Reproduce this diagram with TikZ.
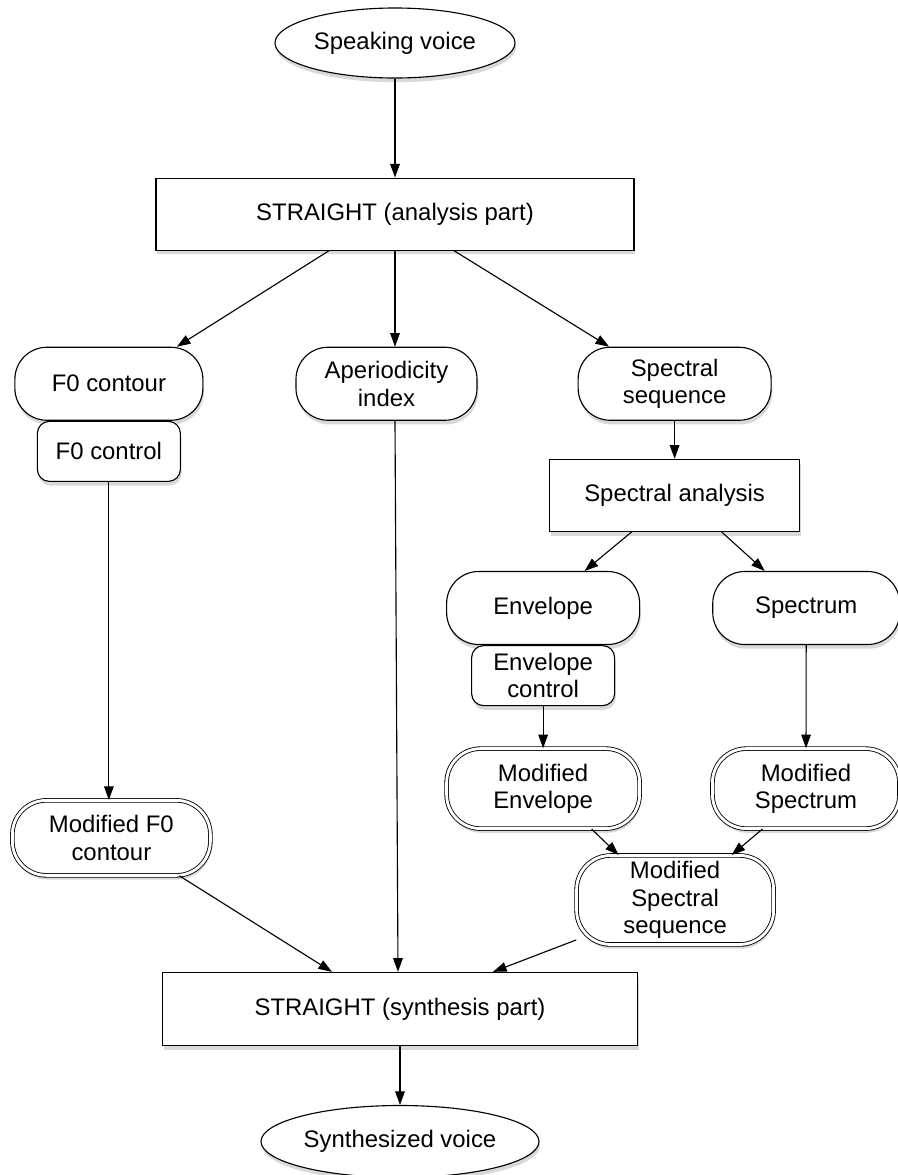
\documentclass[tikz,border=0pt]{standalone}
\usepackage{fontspec}
\setmainfont{Liberation Sans}
\usetikzlibrary{shapes.geometric,arrows.meta,positioning,calc,shadows}

\begin{document}
\begin{tikzpicture}[
  node distance=1.0cm and 1.4cm,
  every node/.style={draw,line width=0.8pt,fill=white,align=center,inner sep=2pt,font=\fontsize{17}{19.5}\selectfont,
    drop shadow={opacity=0.3,shadow xshift=0.8pt,shadow yshift=-3pt}},
  voice/.style={ellipse,inner sep=0pt,minimum width=6.0cm,minimum height=1.75cm},
  block/.style={rectangle,minimum height=1.8cm},
  data/.style={rectangle,rounded corners=0.8cm,minimum height=1.825cm},
  ctrl/.style={rectangle,rounded corners=0.3cm,minimum width=3.575cm,minimum height=1.5cm},
  result/.style={data,rounded corners=0.85cm,double,double distance=2pt,line width=0.6pt,minimum height=2.0cm},
  arrow/.style={-{Triangle[length=3.4mm,width=2.4mm]},line width=0.8pt}
]
  \useasboundingbox (0,0) rectangle (22.45,-29.375);

  \node (speak) [voice] at (9.875,-1.075) {Speaking voice};
  \node (analysis) [block,minimum width=11.95cm,below=2.475cm of speak] {STRAIGHT (analysis part)};
  \node (aper) [data,minimum width=4.525cm,below=2.4cm of analysis,xshift=-0.2125cm] {Aperiodicity\\index};
  \node (f0) [data,minimum width=4.7cm,left=2.3cm of aper] {F0 contour};
  \node (specseq) [data,minimum width=4.825cm,right=2.5cm of aper] {Spectral\\sequence};
  \node (f0ctl) [ctrl,below=0pt of f0] {F0 control};
  \node (specan) [block,minimum width=6.25cm,below=0.95cm of specseq] {Spectral analysis};
  \node (env) [data,minimum width=4.825cm,below=0.975cm of specan,xshift=-3.2875cm] {Envelope};
  \node (spectrum) [data,minimum width=4.675cm,right=1.8cm of env] {Spectrum};
  \node (envctl) [ctrl,below=0pt of env] {Envelope\\control};
  \node (modenv) [result,minimum width=4.825cm,below=1.05cm of envctl] {Modified\\Envelope};
  \node (modspec) [result,minimum width=4.675cm,right=1.8cm of modenv] {Modified\\Spectrum};
  \node (modseq) [result,minimum width=4.925cm,minimum height=2.225cm,below=0.65cm of modenv,xshift=3.3cm] {Modified\\Spectral\\sequence};
  \node (modf0) [result,minimum width=4.95cm,minimum height=1.875cm,below=7.95cm of f0ctl,xshift=0.0625cm] {Modified F0\\contour};
  \node (synth) [block,minimum width=11.875cm,minimum height=1.825cm,below=13.775cm of aper,xshift=0.3375cm] {STRAIGHT (synthesis part)};
  \node (synvoice) [voice,minimum width=6.95cm,minimum height=1.8cm,below=1.475cm of synth] {Synthesized voice};

  \draw[arrow] (speak) -- (analysis);
  \draw[arrow] ($(analysis.south)+(-1.65,0)$) -- ($(f0.north)+(1.7,0)$);
  \draw[arrow] (analysis.south) -- (analysis.south |- aper.north);
  \draw[arrow] ($(analysis.south)+(1.475,0)$) -- ($(specseq.north)+(-1.6375,0)$);
  \draw[arrow] (specseq) -- (specan);
  \draw[arrow] ($(specan.south)+(-1.075,0)$) -- ($(env.north)+(1.0375,0)$);
  \draw[arrow] ($(specan.south)+(1.175,0)$) -- ($(spectrum.north)+(-1.0375,0)$);
  \draw[arrow] (f0ctl.south) -- (f0ctl.south |- modf0.north);
  \draw[arrow] (envctl) -- (modenv);
  \draw[arrow] (spectrum) -- (modspec);
  \draw[arrow] ($(modenv.south)+(1.2125,0)$) -- ($(modseq.north)+(-1.4125,0)$);
  \draw[arrow] ($(modspec.south)+(-1.0875,0)$) -- ($(modseq.north)+(1.4125,0)$);
  \draw[arrow] ($(modf0.south)+(1.7,0)$) -- ($(synth.north)+(-1.7,0)$);
  \draw[arrow] ($(aper.south)+(0.2125,0)$) -- ($(synth.north)+(-0.05,0)$);
  \draw[arrow] (modseq.202) -- ($(synth.north)+(2.325,0)$);
  \draw[arrow] (synth) -- (synvoice);
\end{tikzpicture}
\end{document}
